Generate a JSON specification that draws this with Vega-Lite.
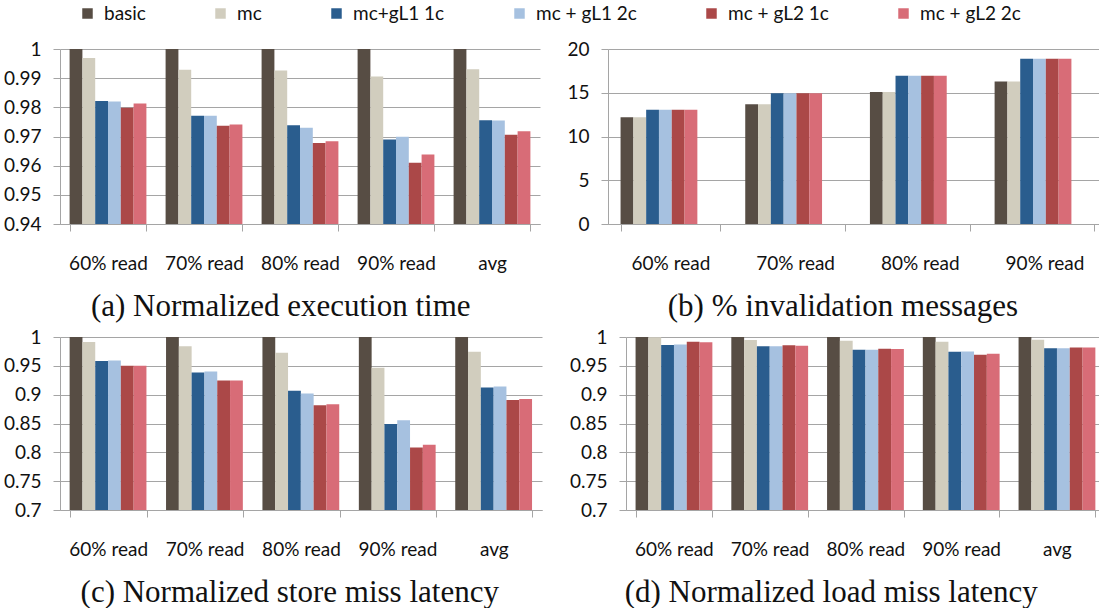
{
  "$schema": "https://vega.github.io/schema/vega-lite/v6.json",
  "padding": {"left": 3, "top": 4, "right": 0, "bottom": 0},
  "datasets": {
    "exec": [
      {"cat": "60% read", "series": "basic", "value": 1.0},
      {"cat": "60% read", "series": "mc", "value": 0.9969},
      {"cat": "60% read", "series": "mc+gL1 1c", "value": 0.9822},
      {"cat": "60% read", "series": "mc + gL1 2c", "value": 0.982},
      {"cat": "60% read", "series": "mc + gL2 1c", "value": 0.9799},
      {"cat": "60% read", "series": "mc + gL2 2c", "value": 0.9813},
      {"cat": "70% read", "series": "basic", "value": 1.0},
      {"cat": "70% read", "series": "mc", "value": 0.9929},
      {"cat": "70% read", "series": "mc+gL1 1c", "value": 0.9771},
      {"cat": "70% read", "series": "mc + gL1 2c", "value": 0.9771},
      {"cat": "70% read", "series": "mc + gL2 1c", "value": 0.9737},
      {"cat": "70% read", "series": "mc + gL2 2c", "value": 0.9741},
      {"cat": "80% read", "series": "basic", "value": 1.0},
      {"cat": "80% read", "series": "mc", "value": 0.9926},
      {"cat": "80% read", "series": "mc+gL1 1c", "value": 0.9739},
      {"cat": "80% read", "series": "mc + gL1 2c", "value": 0.973},
      {"cat": "80% read", "series": "mc + gL2 1c", "value": 0.9678},
      {"cat": "80% read", "series": "mc + gL2 2c", "value": 0.9684},
      {"cat": "90% read", "series": "basic", "value": 1.0},
      {"cat": "90% read", "series": "mc", "value": 0.9906},
      {"cat": "90% read", "series": "mc+gL1 1c", "value": 0.969},
      {"cat": "90% read", "series": "mc + gL1 2c", "value": 0.9699},
      {"cat": "90% read", "series": "mc + gL2 1c", "value": 0.961},
      {"cat": "90% read", "series": "mc + gL2 2c", "value": 0.9638},
      {"cat": "avg", "series": "basic", "value": 1.0},
      {"cat": "avg", "series": "mc", "value": 0.9931},
      {"cat": "avg", "series": "mc+gL1 1c", "value": 0.9756},
      {"cat": "avg", "series": "mc + gL1 2c", "value": 0.9755},
      {"cat": "avg", "series": "mc + gL2 1c", "value": 0.9706},
      {"cat": "avg", "series": "mc + gL2 2c", "value": 0.9718}
    ],
    "inval": [
      {"cat": "60% read", "series": "basic", "value": 12.2},
      {"cat": "60% read", "series": "mc", "value": 12.2},
      {"cat": "60% read", "series": "mc+gL1 1c", "value": 13.05},
      {"cat": "60% read", "series": "mc + gL1 2c", "value": 13.05},
      {"cat": "60% read", "series": "mc + gL2 1c", "value": 13.05},
      {"cat": "60% read", "series": "mc + gL2 2c", "value": 13.05},
      {"cat": "70% read", "series": "basic", "value": 13.7},
      {"cat": "70% read", "series": "mc", "value": 13.7},
      {"cat": "70% read", "series": "mc+gL1 1c", "value": 14.95},
      {"cat": "70% read", "series": "mc + gL1 2c", "value": 14.95},
      {"cat": "70% read", "series": "mc + gL2 1c", "value": 14.95},
      {"cat": "70% read", "series": "mc + gL2 2c", "value": 14.95},
      {"cat": "80% read", "series": "basic", "value": 15.1},
      {"cat": "80% read", "series": "mc", "value": 15.1},
      {"cat": "80% read", "series": "mc+gL1 1c", "value": 16.95},
      {"cat": "80% read", "series": "mc + gL1 2c", "value": 16.95},
      {"cat": "80% read", "series": "mc + gL2 1c", "value": 16.95},
      {"cat": "80% read", "series": "mc + gL2 2c", "value": 16.95},
      {"cat": "90% read", "series": "basic", "value": 16.3},
      {"cat": "90% read", "series": "mc", "value": 16.3},
      {"cat": "90% read", "series": "mc+gL1 1c", "value": 18.88},
      {"cat": "90% read", "series": "mc + gL1 2c", "value": 18.88},
      {"cat": "90% read", "series": "mc + gL2 1c", "value": 18.88},
      {"cat": "90% read", "series": "mc + gL2 2c", "value": 18.88}
    ],
    "store": [
      {"cat": "60% read", "series": "basic", "value": 1.0},
      {"cat": "60% read", "series": "mc", "value": 0.9913},
      {"cat": "60% read", "series": "mc+gL1 1c", "value": 0.9582},
      {"cat": "60% read", "series": "mc + gL1 2c", "value": 0.9594},
      {"cat": "60% read", "series": "mc + gL2 1c", "value": 0.9501},
      {"cat": "60% read", "series": "mc + gL2 2c", "value": 0.9501},
      {"cat": "70% read", "series": "basic", "value": 1.0},
      {"cat": "70% read", "series": "mc", "value": 0.9838},
      {"cat": "70% read", "series": "mc+gL1 1c", "value": 0.9385},
      {"cat": "70% read", "series": "mc + gL1 2c", "value": 0.9402},
      {"cat": "70% read", "series": "mc + gL2 1c", "value": 0.9246},
      {"cat": "70% read", "series": "mc + gL2 2c", "value": 0.9246},
      {"cat": "80% read", "series": "basic", "value": 1.0},
      {"cat": "80% read", "series": "mc", "value": 0.9727},
      {"cat": "80% read", "series": "mc+gL1 1c", "value": 0.9066},
      {"cat": "80% read", "series": "mc + gL1 2c", "value": 0.9019},
      {"cat": "80% read", "series": "mc + gL2 1c", "value": 0.8816},
      {"cat": "80% read", "series": "mc + gL2 2c", "value": 0.8833},
      {"cat": "90% read", "series": "basic", "value": 1.0},
      {"cat": "90% read", "series": "mc", "value": 0.9466},
      {"cat": "90% read", "series": "mc+gL1 1c", "value": 0.8491},
      {"cat": "90% read", "series": "mc + gL1 2c", "value": 0.8555},
      {"cat": "90% read", "series": "mc + gL2 1c", "value": 0.8085},
      {"cat": "90% read", "series": "mc + gL2 2c", "value": 0.8132},
      {"cat": "avg", "series": "basic", "value": 1.0},
      {"cat": "avg", "series": "mc", "value": 0.9745},
      {"cat": "avg", "series": "mc+gL1 1c", "value": 0.9124},
      {"cat": "avg", "series": "mc + gL1 2c", "value": 0.9141},
      {"cat": "avg", "series": "mc + gL2 1c", "value": 0.8909},
      {"cat": "avg", "series": "mc + gL2 2c", "value": 0.8926}
    ],
    "load": [
      {"cat": "60% read", "series": "basic", "value": 1.0},
      {"cat": "60% read", "series": "mc", "value": 0.9997},
      {"cat": "60% read", "series": "mc+gL1 1c", "value": 0.9862},
      {"cat": "60% read", "series": "mc + gL1 2c", "value": 0.9868},
      {"cat": "60% read", "series": "mc + gL2 1c", "value": 0.9919},
      {"cat": "60% read", "series": "mc + gL2 2c", "value": 0.9908},
      {"cat": "70% read", "series": "basic", "value": 1.0},
      {"cat": "70% read", "series": "mc", "value": 0.9948},
      {"cat": "70% read", "series": "mc+gL1 1c", "value": 0.9839},
      {"cat": "70% read", "series": "mc + gL1 2c", "value": 0.9839},
      {"cat": "70% read", "series": "mc + gL2 1c", "value": 0.9856},
      {"cat": "70% read", "series": "mc + gL2 2c", "value": 0.985},
      {"cat": "80% read", "series": "basic", "value": 1.0},
      {"cat": "80% read", "series": "mc", "value": 0.9937},
      {"cat": "80% read", "series": "mc+gL1 1c", "value": 0.9781},
      {"cat": "80% read", "series": "mc + gL1 2c", "value": 0.9781},
      {"cat": "80% read", "series": "mc + gL2 1c", "value": 0.9798},
      {"cat": "80% read", "series": "mc + gL2 2c", "value": 0.9793},
      {"cat": "90% read", "series": "basic", "value": 1.0},
      {"cat": "90% read", "series": "mc", "value": 0.9919},
      {"cat": "90% read", "series": "mc+gL1 1c", "value": 0.9743},
      {"cat": "90% read", "series": "mc + gL1 2c", "value": 0.9747},
      {"cat": "90% read", "series": "mc + gL2 1c", "value": 0.9691},
      {"cat": "90% read", "series": "mc + gL2 2c", "value": 0.9708},
      {"cat": "avg", "series": "basic", "value": 1.0},
      {"cat": "avg", "series": "mc", "value": 0.9952},
      {"cat": "avg", "series": "mc+gL1 1c", "value": 0.9806},
      {"cat": "avg", "series": "mc + gL1 2c", "value": 0.9806},
      {"cat": "avg", "series": "mc + gL2 1c", "value": 0.9818},
      {"cat": "avg", "series": "mc + gL2 2c", "value": 0.9817}
    ]
  },
  "config": {
    "view": {"stroke": null},
    "font": "Lato",
    "axis": {
      "title": null,
      "labelFont": "Lato",
      "labelFontSize": 19,
      "labelColor": "#111111",
      "domainColor": "#a5a5a5",
      "tickColor": "#a5a5a5",
      "gridColor": "#a5a5a5",
      "domainWidth": 1,
      "tickWidth": 1,
      "gridWidth": 1
    },
    "axisX": {"tickBand": "extent", "tickSize": 7, "labelPadding": 23, "labelAngle": 0, "grid": false},
    "axisY": {"grid": true, "tickSize": 7, "labelPadding": 12, "format": "~g"},
    "title": {
      "font": "Liberation Serif",
      "fontSize": 31,
      "fontWeight": "normal",
      "color": "#111111",
      "orient": "bottom",
      "frame": "bounds",
      "anchor": "middle",
      "offset": 19
    }
  },
  "spacing": 6,
  "vconcat": [
    {
      "bounds": "flush",
      "spacing": 68,
      "hconcat": [
        {
          "title": {"text": "(a) Normalized execution time", "dx": 9},
          "width": 480,
          "height": 175,
          "data": {"name": "exec"},
          "mark": {"type": "bar", "clip": true},
          "encoding": {
            "x": {"field": "cat", "type": "nominal", "sort": null, "scale": {"paddingInner": 0.2, "paddingOuter": 0.1}},
            "xOffset": {"field": "series", "type": "nominal", "sort": ["basic", "mc", "mc+gL1 1c", "mc + gL1 2c", "mc + gL2 1c", "mc + gL2 2c"], "scale": {"paddingInner": 0, "paddingOuter": 0}},
            "y": {"field": "value", "type": "quantitative", "scale": {"domain": [0.94, 1], "zero": false, "nice": false}, "axis": {"values": [0.94, 0.95, 0.96, 0.97, 0.98, 0.99, 1]}},
            "color": {
              "field": "series", "type": "nominal",
              "scale": {"domain": ["basic", "mc", "mc+gL1 1c", "mc + gL1 2c", "mc + gL2 1c", "mc + gL2 2c"], "range": ["#574d44", "#d1cdbe", "#2a5d8e", "#a6c1e0", "#ab4848", "#d86c77"]},
              "legend": {"title": null, "orient": "none", "legendX": 18, "legendY": -45, "direction": "horizontal", "gridAlign": "none", "symbolType": "square", "symbolSize": 110, "symbolStrokeWidth": 0, "symbolOpacity": 1, "labelFont": "Lato", "labelFontSize": 19, "labelColor": "#111111", "labelOffset": 7, "columnPadding": 65, "labelLimit": 300}
            }
          }
        },
        {
          "title": {"text": "(b) % invalidation messages", "dx": 10},
          "width": 491,
          "height": 175,
          "data": {"name": "inval"},
          "mark": {"type": "bar", "clip": true},
          "encoding": {
            "x": {"field": "cat", "type": "nominal", "sort": null, "scale": {"paddingInner": 0.2, "paddingOuter": 0.069, "align": 0.73}},
            "xOffset": {"field": "series", "type": "nominal", "sort": ["basic", "mc", "mc+gL1 1c", "mc + gL1 2c", "mc + gL2 1c", "mc + gL2 2c"], "scale": {"paddingInner": 0, "paddingOuter": 0}},
            "y": {"field": "value", "type": "quantitative", "scale": {"domain": [0, 20], "nice": false}, "axis": {"values": [0, 5, 10, 15, 20]}},
            "color": {"field": "series", "type": "nominal"}
          }
        }
      ]
    },
    {
      "bounds": "flush",
      "spacing": 84,
      "hconcat": [
        {
          "title": {"text": "(c) Normalized store miss latency", "dx": 17},
          "width": 482,
          "height": 173,
          "data": {"name": "store"},
          "mark": {"type": "bar", "clip": true},
          "encoding": {
            "x": {"field": "cat", "type": "nominal", "sort": null, "scale": {"paddingInner": 0.2, "paddingOuter": 0.1}},
            "xOffset": {"field": "series", "type": "nominal", "sort": ["basic", "mc", "mc+gL1 1c", "mc + gL1 2c", "mc + gL2 1c", "mc + gL2 2c"], "scale": {"paddingInner": 0, "paddingOuter": 0}},
            "y": {"field": "value", "type": "quantitative", "scale": {"domain": [0.7, 1], "zero": false, "nice": false}, "axis": {"values": [0.7, 0.75, 0.8, 0.85, 0.9, 0.95, 1]}},
            "color": {"field": "series", "type": "nominal"}
          }
        },
        {
          "title": {"text": "(d) Normalized load miss latency", "dx": -3},
          "width": 473,
          "height": 173,
          "data": {"name": "load"},
          "mark": {"type": "bar", "clip": true},
          "encoding": {
            "x": {"field": "cat", "type": "nominal", "sort": null, "scale": {"paddingInner": 0.2, "paddingOuter": 0.07, "align": 0.714}},
            "xOffset": {"field": "series", "type": "nominal", "sort": ["basic", "mc", "mc+gL1 1c", "mc + gL1 2c", "mc + gL2 1c", "mc + gL2 2c"], "scale": {"paddingInner": 0, "paddingOuter": 0}},
            "y": {"field": "value", "type": "quantitative", "scale": {"domain": [0.7, 1], "zero": false, "nice": false}, "axis": {"values": [0.7, 0.75, 0.8, 0.85, 0.9, 0.95, 1]}},
            "color": {"field": "series", "type": "nominal"}
          }
        }
      ]
    }
  ]
}
